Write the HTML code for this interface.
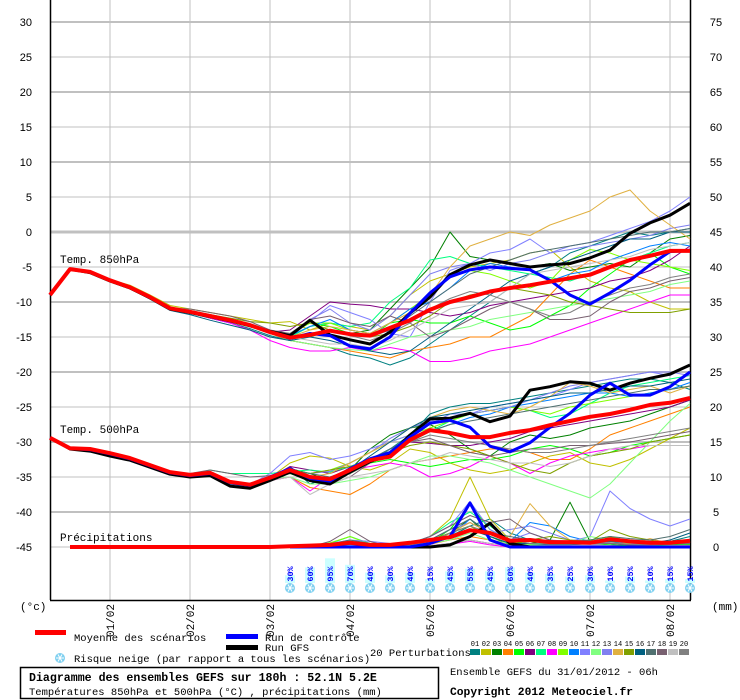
<!DOCTYPE html>
<html><head><meta charset="utf-8"><style>
html,body{margin:0;padding:0;background:#fff;}
svg{display:block;font-family:"Liberation Mono","DejaVu Sans Mono",monospace;}
.tk{font-family:"Liberation Sans",sans-serif;font-size:11px;fill:#000;}
</style></head><body>
<svg id="chart" width="740" height="700" viewBox="0 0 740 700" xmlns="http://www.w3.org/2000/svg">
<g id="grid"></g>
<g id="axes"></g>
<g id="snow"></g>
<g id="series"></g>
<text x="60" y="263" font-size="11">Temp. 850hPa</text>
<text x="60" y="433" font-size="11">Temp. 500hPa</text>
<text x="60" y="541" font-size="11">Précipitations</text>
<text x="20" y="610" font-size="11">(°c)</text>
<text x="712" y="610" font-size="11">(mm)</text>
<g>
<rect x="35" y="630" width="31" height="5" fill="#ff0000"/>
<text x="74" y="641" font-size="10.5">Moyenne des scénarios</text>
<rect x="226" y="634" width="32" height="5" fill="#0000ff"/>
<text x="265" y="641" font-size="10.5">Run de contrôle</text>
<rect x="226" y="645" width="32" height="5" fill="#000"/>
<text x="265" y="651" font-size="10.5">Run GFS</text>
<text x="370" y="656" font-size="10.5">20 Perturbations</text>
<g id="swatches"></g>
<g id="legsnow"></g>
<text x="74" y="662" font-size="10.5">Risque neige (par rapport a tous les scénarios)</text>
</g>
<rect x="20.5" y="667.5" width="418" height="31" fill="none" stroke="#000" stroke-width="1.5"/>
<text x="29" y="681" font-size="11.6" font-weight="bold">Diagramme des ensembles GEFS sur 180h : 52.1N 5.2E</text>
<text x="29" y="695" font-size="10.5">Températures 850hPa et 500hPa (°C) , précipitations (mm)</text>
<text x="450" y="675" font-size="10.5">Ensemble GEFS du 31/01/2012 - 06h</text>
<text x="450" y="695" font-size="11.3" font-weight="bold">Copyright 2012 Meteociel.fr</text>
</svg>
<script>
const leftTicks=[30,25,20,15,10,5,0,-5,-10,-15,-20,-25,-30,-35,-40,-45];
const rightTicks=[75,70,65,60,55,50,45,40,35,30,25,20,15,10,5,0];
const dateLabels=["01/02","02/02","03/02","04/02","05/02","06/02","07/02","08/02"];
const snowPct=[30,60,95,70,40,30,40,15,45,55,45,60,40,35,25,30,10,25,10,15,15];
const snowStart=12;
const pertColors=["#008080","#c0c000","#008000","#ff8000","#00ff00","#800080","#00ff80","#ff00ff","#80ff00","#0080ff","#8080ff","#80ff80","#8080f0","#e0b040","#80a000","#006080","#507070","#786070","#c0c0c0","#808080"];

const mean850=[-9,-5.3,-5.7,-6.9,-7.9,-9.3,-10.9,-11.4,-12,-12.6,-13.3,-14.3,-15.1,-14.7,-14.1,-14.6,-14.8,-13.7,-12.6,-11.1,-10,-9.3,-8.5,-8,-7.6,-7.1,-6.6,-6.1,-5,-4,-3.4,-2.7,-2.7];
const ctrl850=[-9,-5.3,-5.7,-6.9,-7.9,-9.3,-10.9,-11.4,-12,-12.6,-13.3,-14.3,-15.2,-14.5,-14.8,-16.3,-16.7,-15,-11.6,-8.7,-6.4,-5.4,-5,-5.2,-5.4,-6.9,-9,-10.3,-8.7,-6.9,-4.7,-2.8,-2.6];
const gfs850=[-9,-5.3,-5.8,-7,-8,-9.4,-11,-11.5,-12.1,-12.7,-13.4,-14.2,-14.8,-12.6,-14.7,-15.4,-16,-14.3,-11.6,-9.3,-6.1,-4.7,-4,-4.5,-5,-4.7,-4.5,-3.7,-2.6,-0.2,1.3,2.4,4.1];
const mean500=[-29.4,-30.9,-31,-31.6,-32.3,-33.3,-34.3,-34.7,-34.4,-35.7,-36.1,-35.1,-34,-35,-35.3,-34,-32.6,-32.1,-29.7,-28.3,-28.7,-29.3,-29.3,-28.7,-28.3,-27.6,-27,-26.4,-26,-25.4,-24.7,-24.4,-23.7];
const ctrl500=[-29.4,-30.9,-31.1,-31.7,-32.4,-33.4,-34.4,-34.8,-34.5,-35.8,-36.2,-35,-33.8,-35.2,-35.6,-33.8,-32.4,-31.5,-29.3,-27.3,-26.9,-27.9,-30.6,-31.4,-30.1,-27.9,-25.9,-23.3,-21.6,-23.3,-23.3,-22.1,-20];
const gfs500=[-29.4,-31,-31.3,-32,-32.6,-33.6,-34.6,-35,-34.8,-36.3,-36.6,-35.5,-34.3,-35.5,-36,-34.3,-32.8,-31.8,-29,-26.7,-26.6,-25.9,-27.1,-26.3,-22.6,-22.1,-21.4,-21.6,-22.6,-21.6,-20.9,-20.3,-19];
const meanPr=[0,0,0,0,0,0,0,0,0,0,0,0,0.1,0.2,0.3,0.6,0.3,0.3,0.6,1,1.4,2.4,2,0.9,1,0.7,0.7,0.6,1.1,0.8,0.6,0.6,0.9];
const ctrlPr=[0,0,0,0,0,0,0,0,0,0,0,0,0,0,0,0,0,0,0,0.5,1.5,6.3,1,0,0,0,0,0,0,0,0,0,0];
const gfsPr=[0,0,0,0,0,0,0,0,0,0,0,0,0,0,0,0,0,0,0,0,0.3,1.5,3.4,0.5,0,0,0,0,0,0,0,0,0];

const p850_01=[-9,-5.4,-5.8,-7,-8,-9.5,-11,-11.6,-12.3,-13,-13.8,-14.8,-15.5,-16,-16.5,-17.5,-18,-19,-18,-16,-14,-12,-10,-8,-6,-5,-3,-2,-1,0,-0.5,0,0.5];
const p850_02=[-9,-5.2,-5.6,-6.8,-7.6,-9,-10.5,-11,-11.5,-12,-12.5,-13,-12.8,-14,-13,-13.5,-14,-12,-9,-7,-6,-5,-4.5,-4,-3,-2.5,-5,-7,-8,-8.5,-10,-11,-11];
const p850_03=[-9,-5.3,-5.8,-7,-8,-9.5,-11,-11.5,-12.1,-12.7,-13.4,-14.4,-15,-15,-14,-14.5,-14,-11,-8,-5,0,-3.5,-4,-4.5,-5,-4.5,-5.5,-5,-4.5,-5,-3,-1,-0.5];
const p850_04=[-9,-5.3,-5.7,-7,-8,-9.4,-11,-11.5,-12.2,-12.8,-13.5,-14.5,-15.5,-16,-16.5,-17,-17.5,-18,-17,-16.5,-16,-15,-15,-13.5,-12,-9,-6,-4,-5,-6,-7,-8,-8];
const p850_05=[-9,-5.3,-5.7,-6.9,-7.9,-9.3,-10.9,-11.4,-12,-12.6,-13.3,-14.3,-14.5,-13,-13.5,-14.5,-15,-13,-12.5,-13,-13,-12,-13,-14,-13.5,-12,-10.5,-8,-6,-4,-3,-5,-6];
const p850_06=[-9,-5.3,-5.7,-6.9,-7.9,-9.3,-10.9,-11.4,-12,-12.6,-13.3,-14.3,-14,-12,-10,-10.3,-10.5,-11,-11,-11.5,-12,-11.5,-10.5,-10,-9.5,-9,-8.5,-8,-7,-6.5,-5.5,-4,-2];
const p850_07=[-9,-5.3,-5.7,-6.9,-7.9,-9.3,-10.9,-11.4,-12,-12.6,-13.3,-14.3,-15,-13.5,-13,-13.5,-13,-10,-8,-4,-3.5,-4.5,-5,-5.5,-6,-6.5,-7,-6,-5,-4,-3,-2,-1.5];
const p850_08=[-9,-5.3,-5.7,-6.9,-7.9,-9.3,-10.9,-11.5,-12.3,-13,-14,-15.5,-16.5,-17,-17,-16.5,-17,-16.5,-17,-18.5,-18.5,-18,-17,-16.5,-16,-15,-14,-13,-12,-11,-10,-9,-9];
const p850_09=[-9,-5.3,-5.7,-6.9,-7.9,-9.3,-10.9,-11.4,-12,-12.6,-13.3,-14.3,-14.5,-13,-13,-14,-14.5,-13,-11,-9,-6,-5.5,-6,-7,-8,-7,-4,-2.5,-3,-4,-4.5,-5,-5.5];
const p850_10=[-9,-5.3,-5.7,-6.9,-7.9,-9.3,-10.9,-11.4,-12,-12.6,-13.3,-14.3,-14.8,-13.5,-12.5,-14,-14.5,-13,-11,-10,-8,-5.5,-4.5,-5,-5.5,-7,-6,-5.5,-4,-3,-2,-1.5,-2];
const p850_11=[-9,-5.3,-5.7,-6.9,-7.9,-9.3,-10.9,-11.4,-12,-12.6,-13.3,-14.3,-14.5,-12.8,-10.5,-11.5,-12.5,-14.5,-15,-10,-5.5,-4.5,-3,-2.5,-1,-3,-2,-1.5,-0.5,0.5,1.5,3,5];
const p850_12=[-9,-5.3,-5.7,-6.9,-7.9,-9.3,-10.9,-11.4,-12,-12.6,-13.3,-14.3,-15.5,-16,-16.5,-16.8,-17,-16,-15,-14.5,-14,-13.5,-12.5,-12,-11.5,-11,-10.5,-10,-9.5,-9,-8.5,-7.5,-7];
const p850_13=[-9,-5.3,-5.7,-6.9,-7.9,-9.3,-10.9,-11.4,-12,-12.6,-13.3,-14.3,-14.8,-12.5,-11,-13,-14,-12,-9,-6,-5,-4.5,-5.5,-4.5,-4,-3,-2.5,-2,-1.5,-1,-0.5,0.5,1];
const p850_14=[-9,-5.3,-5.7,-6.9,-7.9,-9.3,-10.9,-11.4,-12,-12.6,-13.3,-14.3,-15,-14,-13.5,-14,-14.5,-13,-11.5,-9,-5,-2,-1,0,-0.5,1,2,3,5,6,3,1,-1];
const p850_15=[-9,-5.2,-5.6,-6.8,-7.8,-9.2,-10.8,-11.3,-11.8,-12.3,-12.8,-13,-13.5,-13,-14,-14.5,-15,-14.5,-13.5,-12,-10,-9,-8.5,-8,-8.5,-9,-10,-10.5,-11,-11.5,-11.5,-11.5,-11];
const p850_16=[-9,-5.3,-5.8,-7.1,-8.1,-9.6,-11.2,-11.8,-12.6,-13.3,-14,-15,-15.5,-15,-15.5,-16.3,-17,-17.5,-17,-15,-13,-11,-9,-7,-6,-5,-4,-3,-2,-1,-1,0,0];
const p850_17=[-9,-5.3,-5.7,-6.9,-7.9,-9.3,-10.9,-11.4,-12,-12.6,-13.3,-14.3,-15,-14.5,-14,-14.5,-15,-14,-12,-10,-8,-6,-5,-4,-3,-2.5,-2,-1.5,-1,-0.5,0,0,0.5];
const p850_18=[-9,-5.3,-5.7,-6.9,-7.9,-9.3,-10.9,-11,-11.5,-12,-12.8,-14,-14.5,-12.5,-12,-13,-13.5,-12,-13,-15,-14,-12.5,-11,-10,-11,-12.5,-12.5,-12,-10,-8.5,-8,-7,-6.5];
const p850_19=[-9,-5.3,-5.7,-6.9,-7.9,-9.3,-10.9,-11.4,-12,-12.6,-13.3,-14.3,-15,-15.5,-16,-16,-16.5,-15.5,-14,-12.5,-11,-10.5,-10,-8,-6,-5.5,-5,-4.5,-4,-3.5,-2.5,-2,-1.5];
const p850_20=[-9,-5.3,-5.7,-6.9,-7.9,-9.3,-10.9,-11.4,-12,-12.6,-13.3,-14.3,-15,-14.5,-14,-14.8,-15.5,-14.5,-13,-11,-9.5,-8.5,-9,-10,-11,-12,-11.5,-10,-9,-8,-7.5,-6.5,-6];

const p500_01=[-29.4,-31,-31.2,-31.8,-32.6,-33.6,-34.6,-35,-34.8,-36,-36.4,-35.3,-33.5,-36,-35,-34.5,-33,-31,-29,-26,-25,-24.5,-24.5,-24,-23.5,-23,-22.5,-22,-21.5,-21,-21,-21.5,-22.5];
const p500_02=[-29.4,-30.9,-31,-31.6,-32.3,-33.3,-34.3,-34.7,-34.4,-35.7,-36.1,-35.1,-33,-32,-32.3,-33.5,-34,-33,-31,-31.5,-33,-34,-34.5,-34,-33,-32,-31.5,-33,-33.5,-32.5,-31,-29.5,-28];
const p500_03=[-29.4,-30.9,-31,-31.6,-32.3,-33.3,-34.3,-34.7,-34.4,-35.7,-36.1,-35.1,-33.8,-34.5,-35.5,-34,-31,-29,-28,-27.5,-29,-31,-32,-30,-29,-29.5,-29,-28,-27.5,-27,-26,-25,-24];
const p500_04=[-29.4,-30.9,-31,-31.6,-32.3,-33.3,-34.3,-34.7,-34.4,-35.7,-36.5,-35.5,-35,-36.5,-37,-37.5,-36,-34,-33,-32.5,-32,-31.5,-31,-31,-31.5,-32.5,-32.5,-31,-29,-28,-27,-26,-25];
const p500_05=[-29.4,-30.9,-31,-31.6,-32.3,-33.3,-34.3,-34.7,-34.4,-35.7,-36.1,-35.1,-34.5,-35.5,-35,-34.5,-33,-32.5,-33,-33.5,-33,-32.5,-32.5,-32,-31,-30.5,-31,-32,-31.5,-30.5,-30,-29.5,-29];
const p500_06=[-29.4,-30.9,-31,-31.6,-32.3,-33.3,-34.3,-34.7,-34.4,-35.7,-36.1,-35.1,-33.5,-34,-34.5,-33.5,-32.5,-31,-30,-30.2,-30.5,-30.5,-30,-29.5,-28.5,-28,-27.5,-27,-26.5,-26,-25.5,-25,-24];
const p500_07=[-29.4,-30.9,-31,-31.6,-32.3,-33.3,-34.3,-34.7,-34,-34.5,-34.5,-34.5,-34.2,-34,-34.3,-33.5,-32.5,-31,-30,-28.5,-27,-26,-25.5,-25,-25.5,-26.5,-26,-24.5,-23,-22,-21.5,-21,-20.5];
const p500_08=[-29.4,-30.9,-31,-31.6,-32.3,-33.3,-34.3,-34.7,-34.4,-35.7,-36.1,-35.5,-35,-37,-35,-34,-33.5,-33,-33.5,-35,-34.5,-33.5,-32,-33,-34.5,-33,-32,-31.5,-31,-31,-30.5,-30.5,-30.5];
const p500_09=[-29.4,-30.9,-31,-31.6,-32.3,-33.3,-34.3,-34.7,-34.4,-35.7,-36.1,-35.1,-34,-34.5,-34,-33,-31.5,-30,-29,-28,-27,-26,-25.5,-25,-25.5,-26,-25,-24.5,-24,-23.5,-23,-22.5,-22];
const p500_10=[-29.4,-30.9,-31,-31.6,-32.3,-33.3,-34.3,-34.7,-34.4,-35.7,-36.1,-35.1,-34,-35,-35.5,-34,-32.5,-31,-29.5,-28.5,-27.5,-26.5,-26,-25,-24.5,-24,-23.5,-23,-23,-23.5,-23,-22.5,-21.5];
const p500_11=[-29.4,-30.9,-31,-31.6,-32.3,-33.3,-34.3,-34.7,-34.4,-35.7,-36.1,-34.5,-32,-31.5,-32.5,-32,-31,-30,-29,-27.5,-26,-26,-25,-24.5,-24,-23.5,-22.5,-21.5,-21,-20.5,-20,-20.5,-19];
const p500_12=[-29.4,-30.9,-31,-31.6,-32.3,-33.3,-34.3,-34.7,-34.4,-35.7,-36.1,-35.1,-35,-36,-36,-35.5,-35,-34,-33,-32,-32,-32.5,-33,-34,-35,-36,-37,-38,-36,-33,-30,-27,-24.5];
const p500_13=[-29.4,-30.9,-31,-31.6,-32.3,-33.3,-34.3,-34.7,-34.4,-35.7,-36.1,-35.1,-34,-34.5,-34.2,-33,-31.5,-29.5,-28,-27,-26.5,-26,-25.5,-25,-24,-23,-22,-21.5,-21,-20.5,-20,-20,-20.5];
const p500_14=[-29.4,-30.9,-31,-31.6,-32.3,-33.3,-34.3,-34.7,-34.4,-35.7,-36.3,-35.3,-34.5,-35,-34.5,-33,-31.5,-30,-28,-26.5,-25.5,-25,-25.5,-26,-25,-23.5,-21.5,-22,-23,-22.5,-22,-23,-22];
const p500_15=[-29.4,-30.9,-31,-31.6,-32.3,-33.3,-34.3,-34.7,-34.4,-35.7,-36.1,-35.1,-34,-34.5,-34,-33.5,-33,-31.5,-30.5,-30,-30.5,-31,-32,-33,-34,-34.5,-33,-32,-31.5,-31,-30,-29.5,-29];
const p500_16=[-29.4,-30.9,-31,-31.6,-32.3,-33.3,-34.3,-34.7,-34.4,-35.7,-36.1,-35.1,-34.3,-35,-35.5,-34,-32,-30,-28,-26.5,-26,-25.5,-25,-24.5,-24,-23.5,-23,-23,-22.5,-22,-22,-21.5,-21];
const p500_17=[-29.4,-30.9,-31,-31.6,-32.3,-33.3,-34.3,-34.7,-34.4,-35.7,-36.1,-35.1,-34,-34.5,-35,-34,-32.5,-31,-29.5,-28.5,-27.5,-27,-26.5,-26,-25.5,-25,-24.5,-24,-23.5,-23,-22.5,-22.5,-22];
const p500_18=[-29.4,-30.9,-31,-31.6,-32.3,-33.3,-34.3,-34.5,-34,-34.5,-35,-34.8,-34,-35.5,-36,-35,-33,-31.5,-30,-29.5,-30.5,-31.5,-32,-31.5,-31,-31,-30.5,-30.5,-30.2,-30,-29.5,-29,-28.5];
const p500_19=[-29.4,-30.9,-31,-31.6,-32.3,-33.3,-34.3,-34.7,-34.4,-35.7,-36.3,-35.5,-35,-37.5,-36,-35,-34.5,-34,-33,-32.5,-31.5,-32,-32.5,-33,-33,-33.5,-33,-32,-31,-30.5,-30.5,-30.5,-30.5];
const p500_20=[-29.4,-30.9,-31,-31.6,-32.3,-33.3,-34.3,-34.7,-34.4,-35.7,-36.1,-35.1,-34.5,-35,-35.5,-34.5,-33,-31.5,-30,-29,-29.5,-30,-30.5,-31,-31.5,-31.5,-31,-30.5,-30,-29.5,-29,-28.5,-28];

const pPr_01=[0,0,0,0,0,0,0,0,0,0,0,0,0,0,0.5,0.8,0.2,0,0.5,1,1.5,3,4,2,1,0.5,0.3,0.5,0.8,0.5,0.3,0.8,1.5];
const pPr_02=[0,0,0,0,0,0,0,0,0,0,0,0,0,0,0.3,0.5,0.2,0,0.3,1.5,4,10,4,1,0.8,1,0.5,0.3,1.5,0.8,0.3,0.4,0.5];
const pPr_03=[0,0,0,0,0,0,0,0,0,0,0,0,0,0,0.2,0.3,0.1,0,0.2,0.5,2,4,1.5,0.3,0.5,1,6.4,0.8,0.5,0.3,0.2,0.3,0.5];
const pPr_04=[0,0,0,0,0,0,0,0,0,0,0,0,0,0,0,0.2,0.1,0,0.2,0.4,1,1.5,1,0.5,0.3,0.2,0.5,1,0.5,0.3,0.2,0.2,0.3];
const pPr_05=[0,0,0,0,0,0,0,0,0,0,0,0,0,0,0.4,0.6,0.3,0,0.2,0.6,2.5,6,2.5,0.8,0.4,0.2,0.3,0.5,0.3,0.2,0.2,0.3,0.4];
const pPr_06=[0,0,0,0,0,0,0,0,0,0,0,0,0,0,0,0.2,0,0,0,0.2,0.5,1,0.5,0.2,0,0.2,0.3,0.2,0.2,0.1,0,0,0.2];
const pPr_07=[0,0,0,0,0,0,0,0,0,0,0,0,0,0,0.5,1.5,0.5,0,0.5,1.5,3.5,5,3,1,0.5,0.5,0.5,1,1.5,0.8,0.4,0.5,1];
const pPr_08=[0,0,0,0,0,0,0,0,0,0,0,0,0,0,0,0,0,0,0,0.2,0.4,0.8,0.3,0,0,0,0.2,0.1,0,0,0,0,0];
const pPr_09=[0,0,0,0,0,0,0,0,0,0,0,0,0,0,0.6,1.5,0.4,0,0.3,0.6,2,3,1.5,0.5,0.3,0.4,0.6,1,1.5,0.8,0.4,0.5,0.6];
const pPr_10=[0,0,0,0,0,0,0,0,0,0,0,0,0,0,0,0.3,0.2,0,0.2,0.5,1.5,4,2,0.8,3.5,3,1.5,0.8,0.5,0.3,0.3,0.4,0.5];
const pPr_11=[0,0,0,0,0,0,0,0,0,0,0,0,0,0,0.5,1,0.8,0.5,0.5,1.5,3,6.5,2.5,1,2,1,0.8,1.5,8,5.5,4,3,4];
const pPr_12=[0,0,0,0,0,0,0,0,0,0,0,0,0,0,0.2,0.5,0.2,0,0.2,0.5,1,2,1,0.5,0.3,0.3,0.5,1.5,1,0.5,0.3,0.4,0.5];
const pPr_13=[0,0,0,0,0,0,0,0,0,0,0,0,0,0,0.4,1,0.5,0.2,0.4,1,2.5,3.5,2,2.5,3,2,1,0.8,0.6,0.5,0.4,0.8,1];
const pPr_14=[0,0,0,0,0,0,0,0,0,0,0,0,0,0,0.2,0.5,0.2,0,0.3,0.8,2,3.5,2,1.5,6.2,3,1,0.5,0.5,0.5,1.2,0.5,0.5];
const pPr_15=[0,0,0,0,0,0,0,0,0,0,0,0,0,0,0.3,0.8,0.4,0,0.3,1,2,3,1.5,0.5,1,1.5,1,0.8,2.5,1.5,1,0.5,0.8];
const pPr_16=[0,0,0,0,0,0,0,0,0,0,0,0,0,0,0.3,0.6,0.3,0,0.2,0.5,1.5,2.5,1.5,0.5,0.5,0.3,0.3,0.5,0.5,0.3,0.5,1,2];
const pPr_17=[0,0,0,0,0,0,0,0,0,0,0,0,0,0,0.4,1,0.5,0.2,0.4,1,2.5,4,2,1.5,1,0.8,0.8,1,1.5,1.2,1,1.5,2.5];
const pPr_18=[0,0,0,0,0,0,0,0,0,0,0,0,0,0,0.8,2.5,0.8,0,0.5,1.5,3,4.5,3.5,4,2,1,0.5,0.4,0.5,0.3,0.3,0.4,0.5];
const pPr_19=[0,0,0,0,0,0,0,0,0,0,0,0,0,0,0,0.2,0.1,0,0,0.2,0.5,1,0.5,0.2,0.1,0.2,0.2,0.3,0.2,0.1,0.1,0.2,0.2];
const pPr_20=[0,0,0,0,0,0,0,0,0,0,0,0,0,0,0.3,0.6,0.3,0,0.3,0.8,2,3,2,1,0.5,0.4,0.4,0.5,0.6,0.4,0.3,0.5,0.6];

const pert850=[p850_01,p850_02,p850_03,p850_04,p850_05,p850_06,p850_07,p850_08,p850_09,p850_10,p850_11,p850_12,p850_13,p850_14,p850_15,p850_16,p850_17,p850_18,p850_19,p850_20];
const pert500=[p500_01,p500_02,p500_03,p500_04,p500_05,p500_06,p500_07,p500_08,p500_09,p500_10,p500_11,p500_12,p500_13,p500_14,p500_15,p500_16,p500_17,p500_18,p500_19,p500_20];
const pertPr=[pPr_01,pPr_02,pPr_03,pPr_04,pPr_05,pPr_06,pPr_07,pPr_08,pPr_09,pPr_10,pPr_11,pPr_12,pPr_13,pPr_14,pPr_15,pPr_16,pPr_17,pPr_18,pPr_19,pPr_20];

const NS="http://www.w3.org/2000/svg";
const X0=50,X1=690,STEP=20;
function xs(i){return X0+STEP*i;}
function yT(v){return 232-7*v;}          // temperature axis
function yP(mm){return 547-7*mm;}        // precipitation axis (right)
function mk(tag,attrs,parent){const e=document.createElementNS(NS,tag);for(const k in attrs)e.setAttribute(k,attrs[k]);parent.appendChild(e);return e;}

const grid=document.getElementById('grid');
leftTicks.forEach(v=>{
  const thick=(v%10===0);
  const ln=mk('line',{x1:X0,x2:X1,y1:yT(v),y2:yT(v),stroke:'#c0c0c0','stroke-width':thick?(v===0?3:2):1},grid);
  
  
});
dateLabels.forEach((d,k)=>{
  const x=xs(3+4*k);
  const ln=mk('line',{x1:x,x2:x,y1:0,y2:600,stroke:'#c0c0c0','stroke-width':1},grid);
  
  
});
const axes=document.getElementById('axes');
mk('line',{x1:50.5,x2:50.5,y1:0,y2:600,stroke:'#000','stroke-width':1.5},axes);
mk('line',{x1:690.5,x2:690.5,y1:0,y2:600,stroke:'#000','stroke-width':1.5},axes);
mk('line',{x1:50,x2:691,y1:600.5,y2:600.5,stroke:'#000','stroke-width':1.5},axes);
leftTicks.forEach(v=>{
  const t=mk('text',{x:32,y:yT(v)+4,'text-anchor':'end',class:'tk'},axes);t.textContent=v;
  
  
});
rightTicks.forEach(v=>{
  const t=mk('text',{x:716,y:yP(v)+4,'text-anchor':'middle',class:'tk'},axes);t.textContent=v;
  
  
});
dateLabels.forEach((d,k)=>{
  const x=xs(3+4*k)+4;
  const t=mk('text',{x:x,y:604,'font-size':11,transform:`rotate(-90 ${x} 604)`,'text-anchor':'end'},axes);t.textContent=d;
  
  
});

function flake(g,cx,cy,r){
  mk('circle',{cx:cx,cy:cy,r:r,fill:'#7fd0f0'},g);
  for(let a=0;a<3;a++){const an=a*Math.PI/3;mk('line',{x1:cx-r*0.8*Math.cos(an),y1:cy-r*0.8*Math.sin(an),x2:cx+r*0.8*Math.cos(an),y2:cy+r*0.8*Math.sin(an),stroke:'#fff','stroke-width':1},g);}
}
const snow=document.getElementById('snow');
snowPct.forEach((p,k)=>{
  const x=xs(snowStart+k);
  const b=mk('rect',{x:x-5,y:583-p*0.26,width:10,height:p*0.26,fill:'#ccffff'},snow);
  
  
  const t=mk('text',{x:x+3,y:574,'font-size':8.5,'font-weight':'bold',fill:'#0000ff','text-anchor':'middle',transform:`rotate(-90 ${x+3} 574)`},snow);
  t.textContent=p+'%';
  
  
  flake(snow,x,588,5);
});
flake(document.getElementById('legsnow'),60,658,5);

const sw=document.getElementById('swatches');
pertColors.forEach((c,k)=>{
  const x=470+11*k;
  const r=mk('rect',{x:x,y:649,width:10,height:6,fill:c},sw);
  
  
  const t=mk('text',{x:x+5,y:646,'font-size':7,'text-anchor':'middle'},sw);
  t.textContent=String(k+1).padStart(2,'0');
  
  
});

const ser=document.getElementById('series');
function line(arr,yf,color,w,name,start){
  let d='';const s=start||0;
  for(let i=s;i<arr.length;i++){d+=(i===s?'M':'L')+xs(i)+','+yf(arr[i]).toFixed(1);}
  const p=mk('path',{d:d,fill:'none',stroke:color,'stroke-width':w,'stroke-linejoin':'round'},ser);
  
  
}
pertPr.forEach((a,k)=>line(a,yP,pertColors[k],1,'precip-perturbation',1));
pert500.forEach((a,k)=>line(a,yT,pertColors[k],1,'t500-perturbation'));
pert850.forEach((a,k)=>line(a,yT,pertColors[k],1,'t850-perturbation'));
line(gfsPr,yP,'#000',3,'precip-gfs',12);
line(ctrlPr,yP,'#0000ff',3,'precip-control',12);
line(gfs850,yT,'#000',3,'t850-gfs');
line(ctrl850,yT,'#0000ff',3,'t850-control');
line(gfs500,yT,'#000',3,'t500-gfs');
line(ctrl500,yT,'#0000ff',3,'t500-control');
line(meanPr,yP,'#ff0000',4,'precip-mean',1);
line(mean850,yT,'#ff0000',4,'t850-mean');
line(mean500,yT,'#ff0000',4,'t500-mean');
</script>
</body></html>
